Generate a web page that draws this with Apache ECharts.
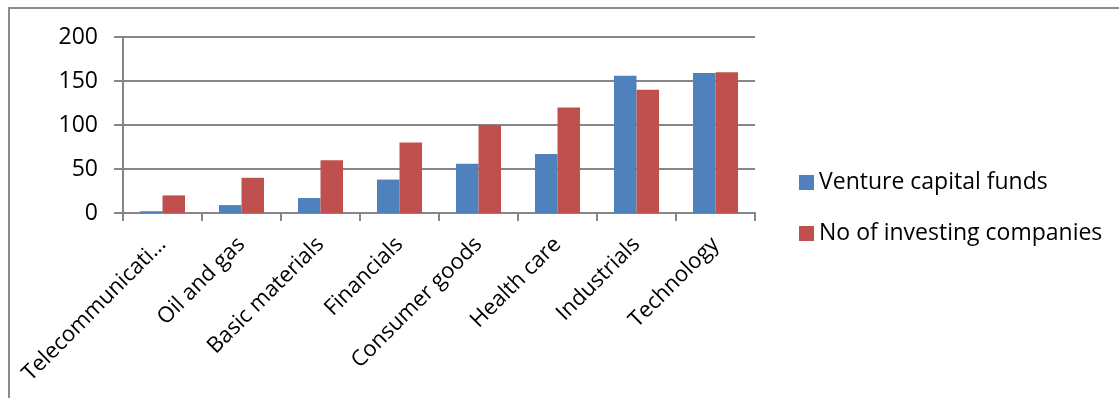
<!DOCTYPE html>
<html>
<head>
<meta charset="utf-8">
<script src="https://cdn.jsdelivr.net/npm/echarts@6/dist/echarts.min.js"></script>
<style>
    html, body { margin: 0; padding: 0; background: #fff; }
    #sectorChart { width: 1119px; height: 398px; }
</style>
</head>
<body>
<div id="sectorChart"></div>
<script>
// 行业分类
var categories = ['Telecommunications', 'Oil and gas', 'Basic materials', 'Financials',
    'Consumer goods', 'Health care', 'Industrials', 'Technology'];
var ventureFunds = [2, 9, 17, 38, 56, 67, 156, 159];
var investingCompanies = [20, 40, 60, 80, 100, 120, 140, 160];
var yTicks = [0, 50, 100, 150, 200];

var option;
var sectorChart = document.getElementById('sectorChart');
var myChart = echarts.init(sectorChart);

var axisGray = '#868686';
var font = 'Open Sans';

option = {
    animation: false,
    textStyle: { fontFamily: font },
    graphic: [
        {
            type: 'rect',
            shape: { x: 9, y: 8, width: 1200, height: 500 },
            style: { fill: 'none', stroke: '#8c8c8c', lineWidth: 2 },
            silent: true
        }
    ],
    legend: {
        orient: 'vertical',
        left: 794,
        top: 166,
        itemWidth: 15,
        itemHeight: 15,
        itemGap: 28,
        icon: 'rect',
        textStyle: { fontFamily: font, fontSize: 23, color: '#000' },
        data: ['Venture capital funds', 'No of investing companies']
    },
    grid: {
        left: 123,
        top: 37,
        right: 364,
        bottom: 185,
        containLabel: false
    },
    xAxis: {
        type: 'category',
        data: categories,
        axisLine: { lineStyle: { color: axisGray, width: 2 } },
        axisTick: { show: true, length: 8, lineStyle: { color: axisGray, width: 2 } },
        axisLabel: {
            rotate: 45,
            margin: 28,
            color: '#000',
            fontFamily: font,
            fontSize: 22,
            width: 205,
            overflow: 'truncate',
            ellipsis: '…'
        }
    },
    yAxis: {
        type: 'value',
        min: yTicks[0],
        max: yTicks[yTicks.length - 1],
        interval: yTicks[1] - yTicks[0],
        axisLine: { show: true, lineStyle: { color: axisGray, width: 2 } },
        axisTick: { show: true, length: 9, lineStyle: { color: axisGray, width: 2 } },
        axisLabel: { margin: 25, color: '#000', fontFamily: font, fontSize: 23 },
        splitLine: { lineStyle: { color: axisGray, width: 2 } }
    },
    series: [
        {
            name: 'Venture capital funds',
            type: 'bar',
            data: ventureFunds,
            barGap: '0%',
            barCategoryGap: '43%',
            itemStyle: { color: '#4F81BD' }
        },
        {
            name: 'No of investing companies',
            type: 'bar',
            data: investingCompanies,
            itemStyle: { color: '#C0504D' }
        }
    ]
};
option && myChart.setOption(option);
</script>
</body>
</html>
